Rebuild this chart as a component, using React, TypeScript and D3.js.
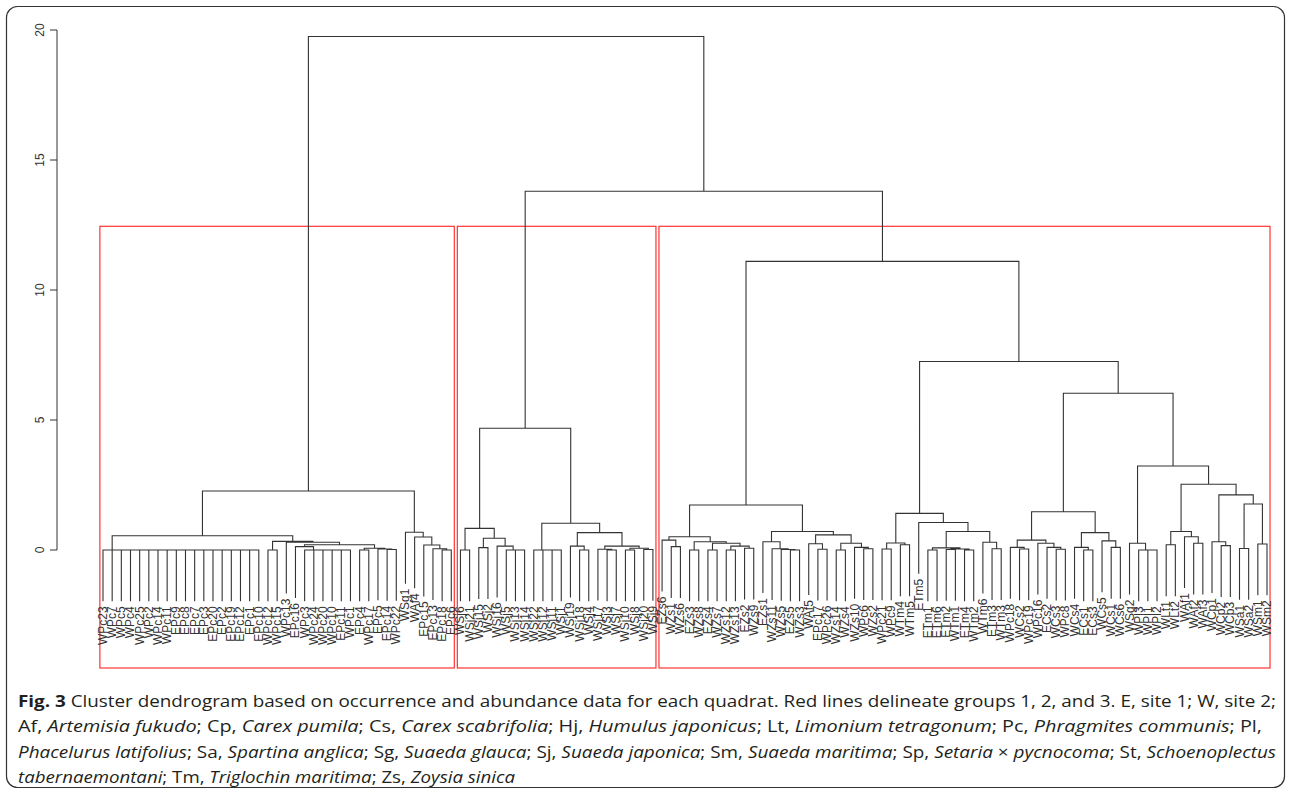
import React from "react";
import * as d3 from "d3";

// ---------- DATA ----------
const leafLabels = [
  "WPc23","WPc7","WPc5","WPc4","WPc25","WPc2","WPc14","WPc11","EPc9","EPc8","EPc7","EPc3","EPc20","EPc2","EPc19","EPc12","EPc1","EPc10",
  "WPc12","WPc15","WPc13","EPc16","WPc3","WPc24","WPc20","WPc10","EPc11","WPc1","EPc4","WPc17","EPc5","EPc14","WPc22","WSg1","WAf4",
  "EPc15","EPc13","EPc18","EPc6",
  "WSj6","WSj21","WSj15","WSj2","WSj16","WSj5","WSj13","WSj14","WSj22","WSj12","WSj11","WSj1","WSj19","WSj18","WSj4","WSj17","WSj3",
  "WSj7","WSj10","WSj8","WSj20","WSj9",
  "EZs6","WZs1","WZs6","EZs3","WZs8","EZs4","WZs7","WZs12","WZs13","EZs2","WZs9","EZs1","WZs11","WZs5","EZs5","WZs3","WAf5","EPc17",
  "WPc26","WZs14","WZs4","WZs10","WPc6","WZs2","WPc21","WPc9","WTm4","WTm5","ETm5","ETm1","ETm6","ETm2","WTm1","ETm4","WTm2","WTm6",
  "ETm3","WTm3","WPc18","WCs2","WPc19","WPc16","ECs2","WCs3","WPc8","WCs4","ECs1","ECs3","WCs5","WCs1","WCs6","WSg2","WPl3","WPl1",
  "WPl2","WLt1","WLt2","WAf1","WAf2","WAf3","WCp1","WCp2","WCp3","WSa1","WSa2","WSm1","WSm2",
];

// Sub-trees: "(a,b,...)h" = merge at height h (lists are merged as right-nested chains), numbers = leaf indices
const group1Tree =
  "(((0,1,2,3,4,5,6,7,8,9,10,11,12,13,14,15,16,17)0,((18,19)0,(20,((21,(22,23,24,25,26,27)0)0.13,((28,29)0,(30,(31,32)0.02)0.04)0.07)0.2)0.3)0.33)0.55,(33,(34,(35,(36,(37,38)0)0.05)0.19)0.5)0.68)2.27";
const group2Tree =
  "(((39,40)0,((41,42)0.09,(43,(44,45,46)0)0.15)0.45)0.83,((47,48,49,50)0,((51,(52,53)0)0.15,((54,(55,56)0)0.03,((57,58)0,(59,60)0.02)0.07)0.15)0.67)1.03)4.68";
const group3LeftTree =
  "(((61,(62,63)0.13)0.38,((64,65)0,((66,67)0,((68,69)0,(70,71)0.07)0.15)0.26)0.32)0.51,((72,(73,(74,(75,76)0)0.02)0.05)0.32,((77,(78,79)0.03)0.24,((80,81)0,(82,(83,84)0.05)0.1)0.26)0.58)0.71)1.73";
const group3RightTree =
  "((((85,86)0.04,(87,88)0.2)0.27,(89,(((90,91)0,((92,93)0.02,(94,95)0)0.04)0.08,(96,(97,98)0.05)0.3)0.71)1.06)1.41,((((99,(100,101)0.04)0.1,(102,(103,(104,105)0.03)0.1)0.26)0.38,((106,(107,108)0)0.1,(109,(110,111)0.1)0.35)0.67)1.47,((112,(113,114,115)0)0.26,(((116,117)0.2,(118,(119,120)0.26)0.51)0.71,((121,(122,123)0.17)0.32,((124,125)0.06,(126,127)0.23)1.77)2.12)2.53)3.23)6.03)7.25";
// heights of the top merges: group 3, groups 2+3, root
const topMergeHeights = [11.1, 13.8, 19.75];
const yTicks = [0, 5, 10, 15, 20];
const groupCount = 3;

// ---------- PARSER ----------
type TNode = { h: number; leaf?: number; children?: TNode[] };
function parseTree(s: string): TNode {
  let i = 0;
  const num = () => {
    const st = i;
    while (i < s.length && /[0-9.]/.test(s[i])) i++;
    return parseFloat(s.slice(st, i));
  };
  const node = (): TNode => {
    if (s[i] === "(") {
      i++;
      const kids = [node()];
      while (s[i] === ",") {
        i++;
        kids.push(node());
      }
      i++; // ')'
      const h = num();
      let n: TNode = { h, children: [kids[kids.length - 2], kids[kids.length - 1]] };
      for (let k = kids.length - 3; k >= 0; k--) n = { h, children: [kids[k], n] };
      return n;
    }
    return { h: 0, leaf: num() };
  };
  return node();
}

const treeData: TNode = {
  h: topMergeHeights[2],
  children: [
    parseTree(group1Tree),
    {
      h: topMergeHeights[1],
      children: [
        parseTree(group2Tree),
        { h: topMergeHeights[0], children: [parseTree(group3LeftTree), parseTree(group3RightTree)] },
      ],
    },
  ],
};

const captionLines: { t: string; s?: "b" | "i" }[][] = [
  [
    { t: "Fig. 3", s: "b" },
    { t: " Cluster dendrogram based on occurrence and abundance data for each quadrat. Red lines delineate groups 1, 2, and 3. E, site 1; W, site 2;" },
  ],
  [
    { t: "Af, " }, { t: "Artemisia fukudo", s: "i" }, { t: "; Cp, " }, { t: "Carex pumila", s: "i" },
    { t: "; Cs, " }, { t: "Carex scabrifolia", s: "i" }, { t: "; Hj, " }, { t: "Humulus japonicus", s: "i" },
    { t: "; Lt, " }, { t: "Limonium tetragonum", s: "i" }, { t: "; Pc, " }, { t: "Phragmites communis", s: "i" }, { t: "; Pl," },
  ],
  [
    { t: "Phacelurus latifolius", s: "i" }, { t: "; Sa, " }, { t: "Spartina anglica", s: "i" }, { t: "; Sg, " },
    { t: "Suaeda glauca", s: "i" }, { t: "; Sj, " }, { t: "Suaeda japonica", s: "i" }, { t: "; Sm, " },
    { t: "Suaeda maritima", s: "i" }, { t: "; Sp, " }, { t: "Setaria", s: "i" }, { t: " × " }, { t: "pycnocoma", s: "i" },
    { t: "; St, " }, { t: "Schoenoplectus", s: "i" },
  ],
  [
    { t: "tabernaemontani", s: "i" }, { t: "; Tm, " }, { t: "Triglochin maritima", s: "i" }, { t: "; Zs, " },
    { t: "Zoysia sinica", s: "i" },
  ],
];
const captionWidths = [1258, 1244, 1258, 497];

// ---------- CHART ----------
export default function App() {
  const W = 1290, H = 793;
  const y = d3.scaleLinear().domain([0, 20]).range([550, 30]);
  const root = d3.hierarchy<TNode>(treeData, (d) => d.children);
  const leaves = root.leaves();
  const x = d3.scalePoint<number>().domain(leaves.map((l) => l.data.leaf as number)).range([103, 1267]);
  const pos = new Map<any, number>();
  root.eachAfter((n) => {
    if (!n.children) pos.set(n, x(n.data.leaf as number) as number);
    else pos.set(n, d3.mean(n.children, (c) => pos.get(c)) as number);
  });
  const hang = 0.1 * root.data.h;
  const step = x.step();

  const segs: string[] = [];
  const labels: { x: number; y: number; t: string }[] = [];
  root.each((n) => {
    if (!n.children) return;
    const [a, b] = n.children;
    const ya = y(n.data.h);
    const end = (c: d3.HierarchyNode<TNode>) => (c.children ? y(c.data.h) : y(n.data.h - hang));
    segs.push(`M${pos.get(a)},${end(a)}V${ya}H${pos.get(b)}V${end(b)}`);
    for (const c of n.children) {
      if (!c.children) labels.push({ x: pos.get(c)!, y: end(c) + 5, t: leafLabels[c.data.leaf as number] });
    }
  });

  // rect.hclust-like boxes
  const groups: d3.HierarchyNode<TNode>[] = [];
  const frontier = [root];
  while (groups.length + frontier.length < groupCount || frontier.length) {
    frontier.sort((p, q) => q.data.h - p.data.h);
    if (groups.length + frontier.length < groupCount) {
      const top = frontier.shift()!;
      frontier.push(...(top.children || []));
    } else {
      groups.push(...frontier.splice(0));
    }
  }
  groups.sort((p, q) => (pos.get(p)! - pos.get(q)!));
  const rectTop = y(d3.mean(topMergeHeights.slice(0, 2)) as number);
  const rectBottom = 668;

  const font = "'Liberation Sans', Arial, sans-serif";
  return (
    <svg width={W} height={H} style={{ position: "absolute", left: 0, top: 0, background: "#fff" }}>
      <rect x={6.5} y={6.5} width={1278} height={781} rx={11} fill="none" stroke="#333" strokeWidth={1.2} />
      {/* axis */}
      <g fontFamily={font} fontSize={12} fill="#333">
        <line x1={57} x2={57} y1={y(0)} y2={y(20)} stroke="#333" />
        {yTicks.map((t) => (
          <g key={t}>
            <line x1={50} x2={57} y1={y(t)} y2={y(t)} stroke="#333" />
            <text transform={`translate(40,${y(t)}) rotate(-90)`} textAnchor="middle" dominantBaseline="central">
              {t}
            </text>
          </g>
        ))}
      </g>
      {/* group rectangles */}
      {groups.map((g, i) => {
        const ls = g.leaves();
        const x0 = x(ls[0].data.leaf as number)! - 0.34 * step;
        const x1 = x(ls[ls.length - 1].data.leaf as number)! + 0.33 * step;
        return (
          <rect key={i} x={x0} y={rectTop} width={x1 - x0} height={rectBottom - rectTop} fill="none" stroke="#f33" strokeWidth={1.2} />
        );
      })}
      <path d={segs.join("")} fill="none" stroke="#333" strokeWidth={1.1} />
      <g fontFamily={font} fontSize={12} fill="#333">
        {labels.map((l, i) => (
          <text key={i} transform={`translate(${l.x},${l.y}) rotate(-90)`} textAnchor="end" dominantBaseline="central">
            {l.t}
          </text>
        ))}
      </g>
      {/* caption */}
      <g fontFamily="'Open Sans', sans-serif" fontSize={16} fill="#231f20">
        {captionLines.map((line, i) => (
          <text key={i} x={18} y={707 + i * 25.3} textLength={captionWidths[i]} lengthAdjust="spacingAndGlyphs">
            {line.map((p, j) => (
              <tspan key={j} fontWeight={p.s === "b" ? 700 : 400} fontStyle={p.s === "i" ? "italic" : "normal"}>
                {p.t}
              </tspan>
            ))}
          </text>
        ))}
      </g>
    </svg>
  );
}
